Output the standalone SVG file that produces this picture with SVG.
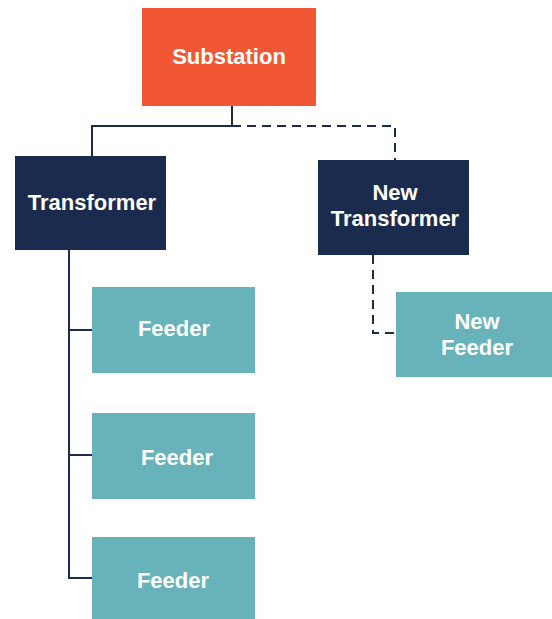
<svg xmlns="http://www.w3.org/2000/svg" width="552" height="619" viewBox="0 0 552 619">
<style>
.lbl{font-family:"Liberation Sans",Arial,sans-serif;font-weight:bold;font-size:22px;fill:#ffffff;text-anchor:middle}
.ln{fill:none;stroke:#1b2b4d;stroke-width:2}
.dash{stroke-dasharray:9 6}
</style>
<rect width="552" height="619" fill="#ffffff"/>
<g id="connectors">
<polyline class="ln" points="232,106 232,126 92,126 92,156"/>
<polyline class="ln dash" points="232,126 395,126 395,160"/>
<polyline class="ln" points="69,250 69,578 92,578"/>
<line class="ln" x1="69" y1="330" x2="92" y2="330"/>
<line class="ln" x1="69" y1="455" x2="92" y2="455"/>
<polyline class="ln dash" points="373,255 373,333 396,333"/>
</g>
<g id="substation"><rect x="142" y="8" width="174" height="98" fill="#f15735"/><text class="lbl" x="229" y="64">Substation</text></g>
<g id="transformer"><rect x="15" y="156" width="151" height="94" fill="#1b2b4d"/><text class="lbl" x="92" y="210">Transformer</text></g>
<g id="new-transformer"><rect x="318" y="160" width="151" height="95" fill="#1b2b4d"/><text class="lbl" x="395" y="200">New</text><text class="lbl" x="395" y="226">Transformer</text></g>
<g id="feeder1"><rect x="92" y="287" width="163" height="86" fill="#67b3b9"/><text class="lbl" x="174" y="336">Feeder</text></g>
<g id="feeder2"><rect x="92" y="413" width="163" height="86" fill="#67b3b9"/><text class="lbl" x="177" y="465">Feeder</text></g>
<g id="feeder3"><rect x="92" y="537" width="163" height="82" fill="#67b3b9"/><text class="lbl" x="173" y="588">Feeder</text></g>
<g id="new-feeder"><rect x="396" y="292" width="156" height="85" fill="#67b3b9"/><text class="lbl" x="477" y="329">New</text><text class="lbl" x="477" y="355">Feeder</text></g>
</svg>
